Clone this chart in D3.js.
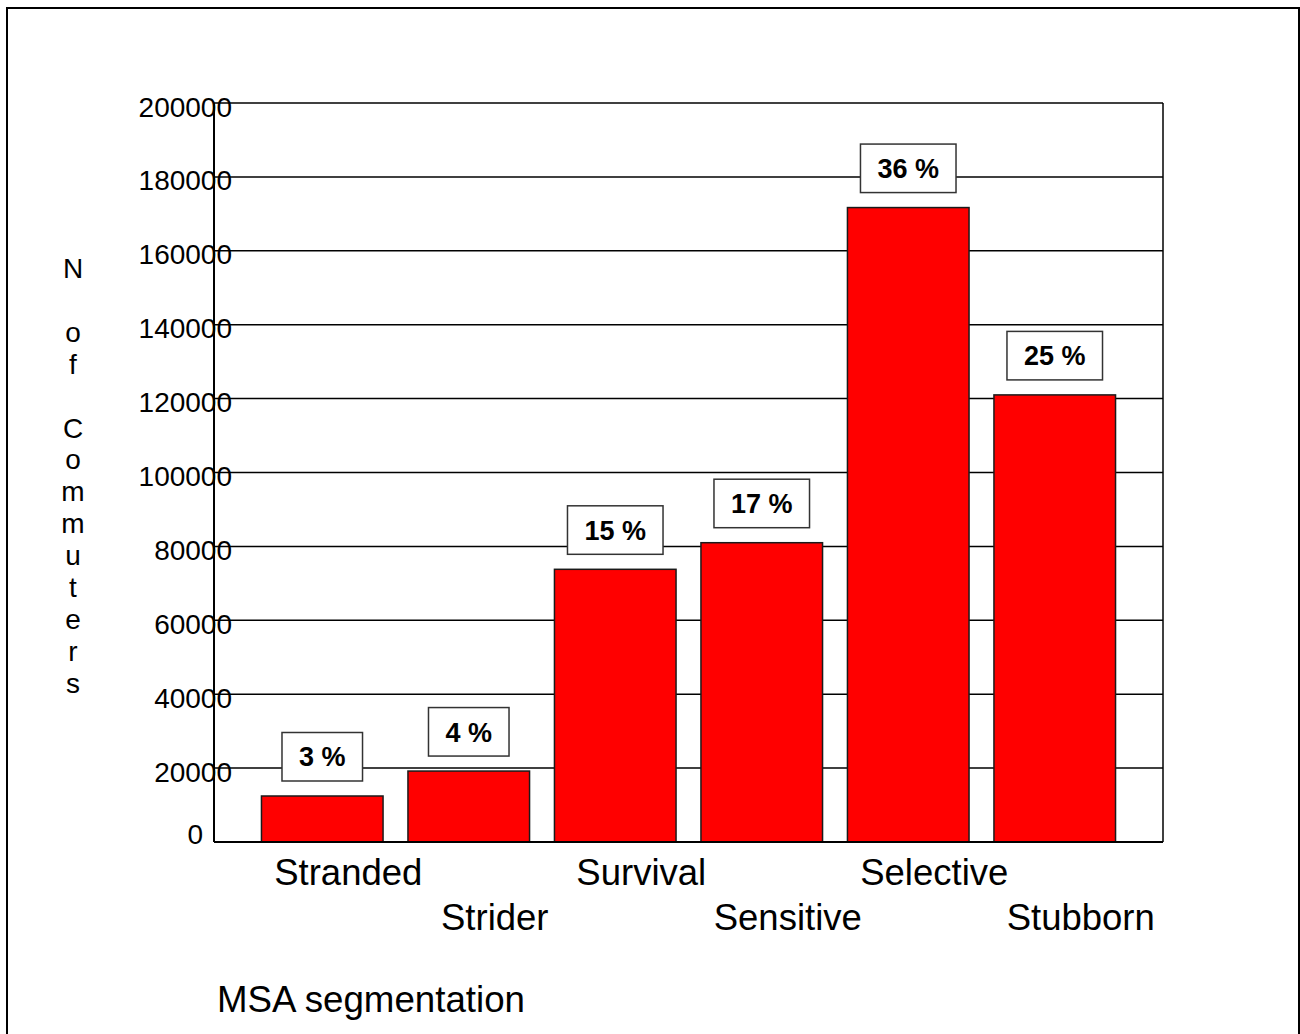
<!DOCTYPE html>
<html>
<head>
<meta charset="utf-8">
<script src="https://cdn.jsdelivr.net/npm/d3@7/dist/d3.min.js"></script>
<style>
  html, body { margin: 0; padding: 0; background: #fff; }
  svg { display: block; font-family: "Liberation Sans", Arial, sans-serif; }
</style>
</head>
<body>
<svg id="chart" width="1300" height="1034"></svg>
<script>
const categories = ["Stranded", "Strider", "Survival", "Sensitive", "Selective", "Stubborn"];
const commuters = [12450, 19200, 73800, 81000, 171700, 121000];
const shareLabels = ["3 %", "4 %", "15 %", "17 %", "36 %", "25 %"];
const yTicks = [0, 20000, 40000, 60000, 80000, 100000, 120000, 140000, 160000, 180000, 200000];
const yTitle = "N of Commuters";
const xTitle = "MSA segmentation";

const svg = d3.select("#chart");
const W = 1300, H = 1034;
const plot = { left: 214, right: 1163, top: 103, bottom: 842 };

// outer frame
svg.append("rect")
  .attr("x", 7).attr("y", 8)
  .attr("width", W - 8).attr("height", H + 10)
  .attr("fill", "none").attr("stroke", "#000").attr("stroke-width", 2);

const y = d3.scaleLinear().domain([0, 200000]).range([plot.bottom, plot.top]);
const x = d3.scaleBand().domain(categories)
  .range([plot.left, plot.right])
  .paddingInner(0.17).paddingOuter(0.324);

// gridlines
svg.append("g").selectAll("line").data(yTicks.filter(d => d > 0)).join("line")
  .attr("x1", plot.left).attr("x2", plot.right)
  .attr("y1", d => y(d)).attr("y2", d => y(d))
  .attr("stroke", "#000").attr("stroke-width", 1.5);

// right border of plot
svg.append("line")
  .attr("x1", plot.right).attr("x2", plot.right)
  .attr("y1", plot.top).attr("y2", plot.bottom)
  .attr("stroke", "#000").attr("stroke-width", 1.5);

// bars
svg.append("g").selectAll("rect").data(categories).join("rect")
  .attr("x", d => x(d))
  .attr("width", x.bandwidth())
  .attr("y", (d, i) => y(commuters[i]))
  .attr("height", (d, i) => y(0) - y(commuters[i]))
  .attr("fill", "#ff0000")
  .attr("stroke", "#1a1a1a").attr("stroke-width", 1.5);

// axes lines
svg.append("line")
  .attr("x1", plot.left).attr("x2", plot.left)
  .attr("y1", plot.top).attr("y2", plot.bottom)
  .attr("stroke", "#000").attr("stroke-width", 2);
svg.append("line")
  .attr("x1", plot.left).attr("x2", plot.right)
  .attr("y1", plot.bottom).attr("y2", plot.bottom)
  .attr("stroke", "#000").attr("stroke-width", 2);

// y tick labels (using d3 axis for tick placement)
const yAxis = d3.axisLeft(y).tickValues(yTicks).tickSize(0).tickFormat(d3.format("d"));
const ya = svg.append("g").attr("transform", `translate(${plot.left + 18},0)`).call(yAxis);
ya.select(".domain").remove();
ya.selectAll("text")
  .attr("x", d => d === 0 ? -29 : 0).attr("dy", null)
  .attr("y", d => d === 0 ? 1 : 13)
  .attr("font-size", 28)
  .attr("font-family", "Liberation Sans, Arial, sans-serif")
  .attr("fill", "#000")
  .attr("text-anchor", "end");

// data labels in boxes
const lbl = svg.append("g");
categories.forEach((c, i) => {
  const cx = x(c) + x.bandwidth() / 2;
  const g = lbl.append("g");
  const t = g.append("text")
    .attr("x", cx)
    .attr("font-size", 27).attr("font-weight", "bold")
    .attr("text-anchor", "middle")
    .text(shareLabels[i]);
  const tw = t.node().getComputedTextLength();
  const bw = tw + 34, bh = 48.5;
  const by = y(commuters[i]) - 15 - bh;
  g.insert("rect", "text")
    .attr("x", cx - bw / 2).attr("y", by)
    .attr("width", bw).attr("height", bh)
    .attr("fill", "#fff").attr("stroke", "#333").attr("stroke-width", 1.5);
  t.attr("y", by + bh / 2 + 9.7);
});

// category labels (staggered)
svg.append("g").selectAll("text").data(categories).join("text")
  .attr("x", d => x(d) + x.bandwidth() / 2 + 26)
  .attr("y", (d, i) => i % 2 === 0 ? 885 : 930)
  .attr("font-size", 36.5)
  .attr("text-anchor", "middle")
  .attr("fill", "#000")
  .text(d => d);

// y title, stacked letters
const yt = svg.append("text")
  .attr("font-size", 28).attr("text-anchor", "middle").attr("fill", "#000");
yTitle.split("").forEach((ch, i) => {
  yt.append("tspan")
    .attr("x", 73)
    .attr("y", 278 + i * 31.9)
    .text(ch === " " ? "\u00a0" : ch);
});

// x title
svg.append("text")
  .attr("x", 217).attr("y", 1012)
  .attr("font-size", 36.7).attr("fill", "#000")
  .text(xTitle);
</script>
</body>
</html>
